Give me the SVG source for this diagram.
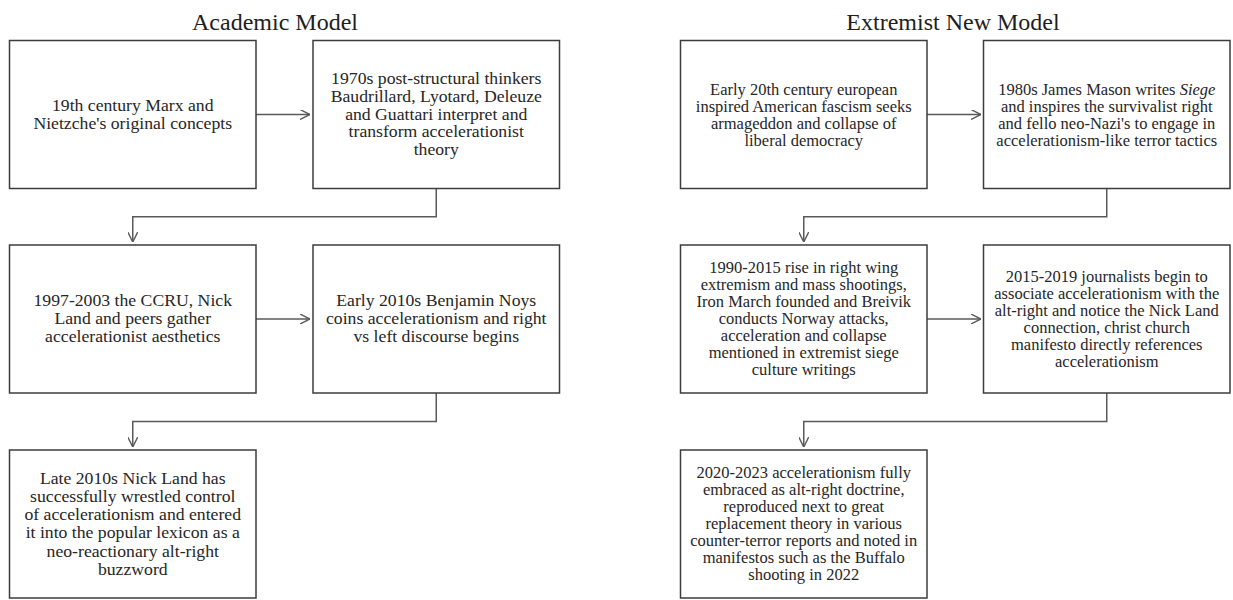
<svg xmlns="http://www.w3.org/2000/svg" width="1233" height="600" viewBox="0 0 1233 600">
<style>
  .bg { fill: #ffffff; }
  .box { fill: #ffffff; stroke: #3c3c3c; stroke-width: 1.5; }
  .title { font-family: "Liberation Serif", "Times New Roman", serif; font-size: 24px; fill: #1e1e1e; text-anchor: middle; }
  .tl { font-family: "Liberation Serif", "Times New Roman", serif; font-size: 17.7px; fill: #262626; text-anchor: middle; }
  .tr { font-family: "Liberation Serif", "Times New Roman", serif; font-size: 16.5px; fill: #262626; text-anchor: middle; }
  .conn { fill: none; stroke: #5a5a5a; stroke-width: 1.5; }
</style>
<defs>
  <marker id="arr" viewBox="0 0 10 10" refX="10" refY="5" markerWidth="10" markerHeight="10" markerUnits="userSpaceOnUse" orient="auto">
    <path d="M0,0 L10,5 L0,10" fill="none" stroke="#5a5a5a" stroke-width="1.4"/>
  </marker>
</defs>
<rect class="bg" x="0" y="0" width="1233" height="600"/>

<text class="title" x="275" y="30">Academic Model</text>
<text class="title" x="953" y="30">Extremist New Model</text>

<g id="connectors">
  <line class="conn" x1="256" y1="114.5" x2="310" y2="114.5" marker-end="url(#arr)"/>
  <polyline class="conn" points="436.25,188.5 436.25,216.75 132.75,216.75 132.75,242" marker-end="url(#arr)"/>
  <line class="conn" x1="256" y1="319" x2="310" y2="319" marker-end="url(#arr)"/>
  <polyline class="conn" points="436.25,393 436.25,421.5 132.75,421.5 132.75,447" marker-end="url(#arr)"/>

  <line class="conn" x1="927" y1="114.5" x2="981" y2="114.5" marker-end="url(#arr)"/>
  <polyline class="conn" points="1106.75,188.5 1106.75,216.75 803.75,216.75 803.75,242" marker-end="url(#arr)"/>
  <line class="conn" x1="927" y1="319" x2="981" y2="319" marker-end="url(#arr)"/>
  <polyline class="conn" points="1106.75,393 1106.75,421.5 803.75,421.5 803.75,447" marker-end="url(#arr)"/>
</g>

<g id="a1">
  <rect class="box" x="9.5" y="40.5" width="246.5" height="148"/>
  <text class="tl" x="132.75" y="110.5">19th century Marx and</text>
  <text class="tl" x="132.75" y="128.7">Nietzche's original concepts</text>
</g>
<g id="a2">
  <rect class="box" x="313" y="40.5" width="246.5" height="148"/>
  <text class="tl" x="436.25" y="84">1970s post-structural thinkers</text>
  <text class="tl" x="436.25" y="101.8">Baudrillard, Lyotard, Deleuze</text>
  <text class="tl" x="436.25" y="119.6">and Guattari interpret and</text>
  <text class="tl" x="436.25" y="137.4">transform accelerationist</text>
  <text class="tl" x="436.25" y="155.2">theory</text>
</g>
<g id="a3">
  <rect class="box" x="9.5" y="245" width="246.5" height="148"/>
  <text class="tl" x="132.75" y="305.5">1997-2003 the CCRU, Nick</text>
  <text class="tl" x="132.75" y="323.5">Land and peers gather</text>
  <text class="tl" x="132.75" y="341.5">accelerationist aesthetics</text>
</g>
<g id="a4">
  <rect class="box" x="313" y="245" width="246.5" height="148"/>
  <text class="tl" x="436.25" y="305.5">Early 2010s Benjamin Noys</text>
  <text class="tl" x="436.25" y="323.5">coins accelerationism and right</text>
  <text class="tl" x="436.25" y="341.5">vs left discourse begins</text>
</g>
<g id="a5">
  <rect class="box" x="9.5" y="450" width="246.5" height="148"/>
  <text class="tl" x="132.75" y="483.5">Late 2010s Nick Land has</text>
  <text class="tl" x="132.75" y="501.8">successfully wrestled control</text>
  <text class="tl" x="132.75" y="520.1">of accelerationism and entered</text>
  <text class="tl" x="132.75" y="538.4">it into the popular lexicon as a</text>
  <text class="tl" x="132.75" y="556.7">neo-reactionary alt-right</text>
  <text class="tl" x="132.75" y="575">buzzword</text>
</g>

<g id="e1">
  <rect class="box" x="680.5" y="40.5" width="246.5" height="148"/>
  <text class="tr" x="803.75" y="94.5">Early 20th century european</text>
  <text class="tr" x="803.75" y="111.6">inspired American fascism seeks</text>
  <text class="tr" x="803.75" y="128.7">armageddon and collapse of</text>
  <text class="tr" x="803.75" y="145.8">liberal democracy</text>
</g>
<g id="e2">
  <rect class="box" x="983.5" y="40.5" width="246.5" height="148"/>
  <text class="tr" x="1106.75" y="94.5">1980s James Mason writes <tspan font-style="italic">Siege</tspan></text>
  <text class="tr" x="1106.75" y="111.6">and inspires the survivalist right</text>
  <text class="tr" x="1106.75" y="128.7">and fello neo-Nazi's to engage in</text>
  <text class="tr" x="1106.75" y="145.8">accelerationism-like terror tactics</text>
</g>
<g id="e3">
  <rect class="box" x="680.5" y="245" width="246.5" height="148"/>
  <text class="tr" x="803.75" y="272.7">1990-2015 rise in right wing</text>
  <text class="tr" x="803.75" y="289.8">extremism and mass shootings,</text>
  <text class="tr" x="803.75" y="306.9">Iron March founded and Breivik</text>
  <text class="tr" x="803.75" y="324">conducts Norway attacks,</text>
  <text class="tr" x="803.75" y="341.1">acceleration and collapse</text>
  <text class="tr" x="803.75" y="358.2">mentioned in extremist siege</text>
  <text class="tr" x="803.75" y="375.3">culture writings</text>
</g>
<g id="e4">
  <rect class="box" x="983.5" y="245" width="246.5" height="148"/>
  <text class="tr" x="1106.75" y="281.5">2015-2019 journalists begin to</text>
  <text class="tr" x="1106.75" y="298.6">associate accelerationism with the</text>
  <text class="tr" x="1106.75" y="315.7">alt-right and notice the Nick Land</text>
  <text class="tr" x="1106.75" y="332.8">connection, christ church</text>
  <text class="tr" x="1106.75" y="349.9">manifesto directly references</text>
  <text class="tr" x="1106.75" y="367">accelerationism</text>
</g>
<g id="e5">
  <rect class="box" x="680.5" y="450" width="246.5" height="148"/>
  <text class="tr" x="803.75" y="477.7">2020-2023 accelerationism fully</text>
  <text class="tr" x="803.75" y="494.8">embraced as alt-right doctrine,</text>
  <text class="tr" x="803.75" y="511.9">reproduced next to great</text>
  <text class="tr" x="803.75" y="529">replacement theory in various</text>
  <text class="tr" x="803.75" y="546.1">counter-terror reports and noted in</text>
  <text class="tr" x="803.75" y="563.2">manifestos such as the Buffalo</text>
  <text class="tr" x="803.75" y="580.3">shooting in 2022</text>
</g>
</svg>
